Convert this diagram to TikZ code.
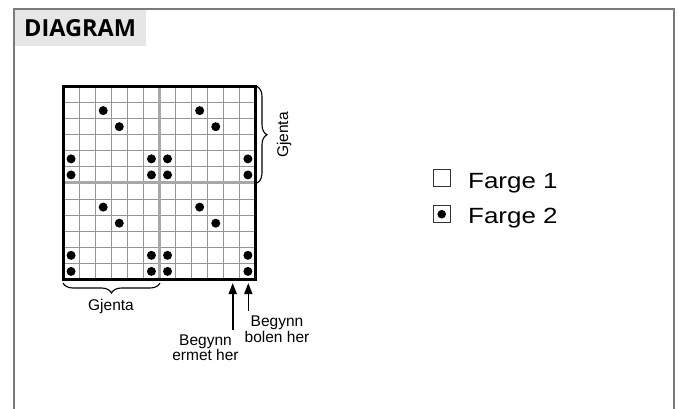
\documentclass[tikz,border=0pt]{standalone}
\usepackage{fontspec}
\setmainfont{Liberation Sans}
\newfontfamily\legfont[FakeStretch=1.18]{Liberation Sans}
\newfontfamily\headfont{Open Sans}
\usetikzlibrary{decorations.pathreplacing,arrows.meta}
\definecolor{framecol}{HTML}{7A7A7A}
\definecolor{headfill}{HTML}{E6E6E6}
\definecolor{thingrid}{HTML}{959595}
\definecolor{thickgrid}{HTML}{A8A8A8}
\tikzset{
  thinline/.style={draw=thingrid, line width=1pt},
  repline/.style={draw=thickgrid, line width=3pt},
  border/.style={draw=black, line width=3pt},
  dot/.style={fill=black},
  lab/.style={font=\fontsize{15.5}{15.6}\selectfont, inner sep=0pt, align=center},
  bracestyle/.style={decorate, decoration={brace, amplitude=10pt}, line width=1.1pt},
  arr/.style={line width=1.6pt, -{Triangle[width=8pt,length=11pt]}},
  legbox/.style={draw=black!80, line width=1pt},
  legtext/.style={font=\legfont\fontsize{22}{24}\selectfont, inner sep=0pt, anchor=base west}
}
\begin{document}
\begin{tikzpicture}[x=1pt,y=-1pt]
\useasboundingbox (0,0) rectangle (678,409);
\fill[white] (0,0) rectangle (678,409);
% header
\fill[headfill] (14,9) rectangle (146,46);
\draw[framecol, line width=2pt] (14,409) -- (14,9) -- (674,9) -- (674,409);
\node[font=\headfont\bfseries\fontsize{23.5}{25}\selectfont, inner sep=0pt, anchor=base west] (title) at (24,36.7) {DIAGRAM};
% grid
\def\gx{63}
\def\gy{86.5}
\def\cs{16.08}
\foreach \i in {1,...,11} {
  \draw[thinline] (\gx+\i*\cs,\gy) -- ++(0,12*\cs);
  \draw[thinline] (\gx,\gy+\i*\cs) -- ++(12*\cs,0);
}
\draw[repline] (\gx+6*\cs,\gy) -- ++(0,12*\cs);
\draw[repline] (\gx,\gy+6*\cs) -- ++(12*\cs,0);
\draw[border] (\gx,\gy) rectangle ++(12*\cs,12*\cs);
\foreach \br in {0,6} {
  \foreach \bc in {0,6} {
    \foreach \r/\c in {1/2,2/3,4/0,4/5,5/0,5/5} {
      \fill[dot] (\gx+\bc*\cs+\c*\cs+0.5*\cs,\gy+\br*\cs+\r*\cs+0.5*\cs) circle (4.5pt);
    }
  }
}
% braces
\coordinate (rb1) at (257,86.5);
\coordinate (rb2) at (257,183);
\draw[bracestyle] (rb1) -- (rb2);
\node[lab, rotate=90] (gjr) at (284,135) {Gjenta};
\coordinate (bb1) at (160,283);
\coordinate (bb2) at (63,283);
\draw[bracestyle] (bb1) -- (bb2);
\node[lab] (gjb) at (111,306) {Gjenta};
% arrows and labels
\node[lab, anchor=base] (ermet) at (205.5,360.6) {Begynn\\ermet her};
\node[lab, anchor=base] (bolen) at (277,342.3) {Begynn\\bolen her};
\coordinate (t1) at (232.7,283);
\coordinate (s1) at (232.7,330);
\coordinate (t2) at (248.3,283);
\coordinate (s2) at (248.3,311);
\draw[arr] (s1) -- (t1);
\draw[arr] (s2) -- (t2);
% legend
\node[legbox, minimum size=17pt, inner sep=0pt] (box1) at (441.7,178) {};
\node[legbox, minimum size=17pt, inner sep=0pt] (box2) at (441.7,214.2) {};
\fill[dot] (box2.center) circle (4.3pt);
\node[legtext] (f1) at (468,188.3) {Farge 1};
\node[legtext] (f2) at (468,223.3) {Farge 2};
\end{tikzpicture}
\end{document}
